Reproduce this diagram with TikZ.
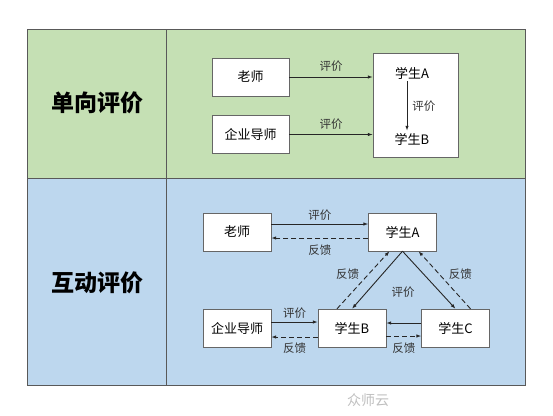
\documentclass[tikz,border=0pt]{standalone}
\usepackage{fontspec}
\setmainfont{Noto Sans CJK SC}
\usetikzlibrary{positioning,arrows.meta}
\definecolor{lgreen}{HTML}{C5E0B4}
\definecolor{lblue}{HTML}{BDD7EE}

\begin{document}
\begin{tikzpicture}[x=1pt,y=-1pt,
	box/.style={draw=black!60,fill=white,minimum width=68,minimum height=38,inner sep=0pt,font=\fontsize{13}{13}\selectfont},
	txt/.style={inner sep=2pt,font=\fontsize{13}{13}\selectfont},
	lbl/.style={inner sep=1pt,text=black!80,font=\fontsize{11.5}{11.5}\selectfont},
	title/.style={font=\fontsize{23}{23}\selectfont\bfseries},
	arr/.style={-{Latex[length=5pt,width=3.5pt]},line width=0.9pt,black!85},
	fb/.style={arr,dash pattern=on 5pt off 3pt}]
\fill[white] (0,0) rectangle (553,415);
\useasboundingbox (0,0) rectangle (553,415);
% table
\fill[lgreen] (27,29) rectangle (525,178);
\fill[lblue] (27,178) rectangle (525,385);
\draw[black!65] (27,29) rectangle (525,385) (27,178)--(525,178) (166,29)--(166,385);
\node[title] (t1) at (97,103) {单向评价};
\node[title] (t2) at (97,283) {互动评价};
% one-way
\node[box,minimum width=77] (ls1) at (250.5,77) {老师};
\node[box,minimum width=77] (qy1) at (250.5,134.5) {企业导师};
\node[box,minimum width=85,minimum height=104] (xs) at (415.5,105) {};
\node[txt] (xa1) at (412,73) {学生A};
\node[txt] (xb1) at (412,139) {学生B};
\draw[arr] (ls1) -- (ls1 -| xs.west) node[lbl,midway,above=4pt]{评价};
\draw[arr] (qy1) -- (qy1 -| xs.west) node[lbl,midway,above=4pt]{评价};
\draw[arr] ([xshift=-5]xa1.south) -- ([xshift=-5]xb1.north) node[lbl,midway,right=4pt]{评价};
% interactive
\node[box] (ls2) at (237,232) {老师};
\node[box] (qy2) at (237,328) {企业导师};
\node[box] (xa2) at (402.5,232) {学生A};
\node[box] (xb2) at (352,328) {学生B};
\node[box] (xc2) at (455.5,328) {学生C};
\draw[arr] ([yshift=8]ls2.east) -- ([yshift=8]ls2.east -| xa2.west) node[lbl,midway,above=2pt]{评价};
\draw[fb] ([yshift=-6]xa2.west) -- ([yshift=-6]xa2.west -| ls2.east) node[lbl,midway,below=5pt]{反馈};
\draw[arr] ([yshift=6]qy2.east) -- ([yshift=6]qy2.east -| xb2.west) node[lbl,midway,above=2pt]{评价};
\draw[fb] ([yshift=-9]xb2.west) -- ([yshift=-9]xb2.west -| qy2.east) node[lbl,midway,below=4pt]{反馈};
\draw[arr] ([yshift=5]xc2.west) -- ([yshift=5]xc2.west -| xb2.east);
\draw[fb] ([yshift=-8]xb2.east) -- ([yshift=-8]xb2.east -| xc2.west) node[lbl,midway,below=5pt]{反馈};
\draw[arr] (xa2.south) -- (xb2.north);
\draw[fb] ([xshift=-15]xb2.north) -- ([xshift=-13]xa2.south) node[lbl,pos=0.6,left=8pt]{反馈};
\draw[arr] (xa2.south) -- (xc2.north);
\draw[fb] ([xshift=15]xc2.north) -- ([xshift=16]xa2.south) node[lbl,pos=0.6,right=8pt]{反馈};
\node[lbl] (pj) at (403,292) {评价};
% watermark
\node[text=black!25,font=\fontsize{14}{14}\selectfont] (wm) at (368,400) {众师云};
\end{tikzpicture}
\end{document}
